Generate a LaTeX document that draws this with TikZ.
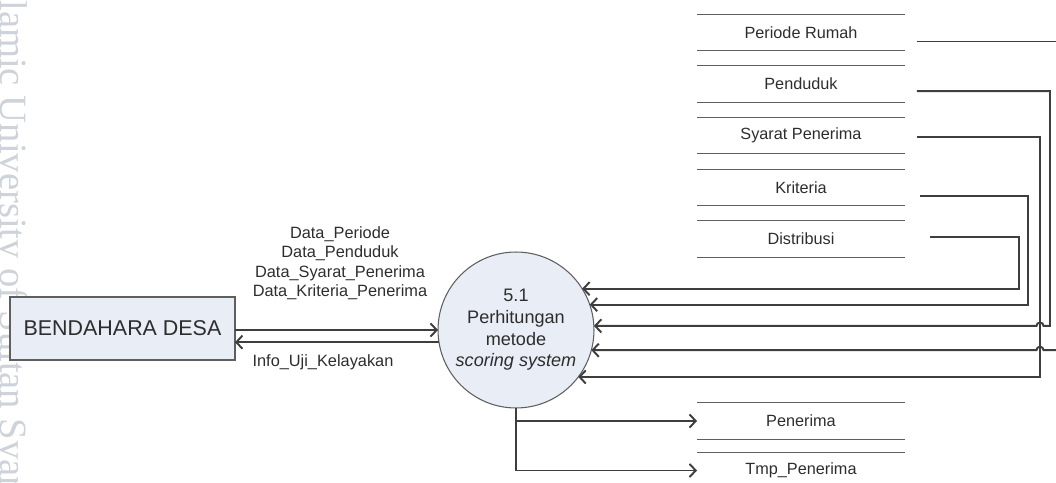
\documentclass[tikz,border=0pt]{standalone}
\usepackage{fontspec}
\setmainfont{Liberation Sans}
\newfontfamily\wmfont{Liberation Serif}
\usetikzlibrary{arrows.meta,calc}
\definecolor{ink}{RGB}{62,62,62}
\definecolor{rule}{RGB}{95,95,95}
\definecolor{bubble}{RGB}{232,237,246}
\definecolor{wmside}{RGB}{206,211,218}
\definecolor{txt}{RGB}{45,45,45}
\begin{document}
\begin{tikzpicture}[x=0.02cm,y=-0.02cm,
  flow/.style={draw=ink, line width=1.1pt, -{Straight Barb[length=3.5pt,width=7.5pt]}},
  link/.style={draw=ink, line width=1.1pt},
  storeline/.style={draw=rule, line width=0.6pt},
  store/.style={minimum width=4.16cm, minimum height=0.73cm, inner sep=0pt, outer sep=0pt,
    text=txt, font=\fontsize{9.25}{11}\selectfont},
  flowlabel/.style={text=txt, font=\fontsize{9.3}{11.05}\selectfont, align=center, inner sep=0pt},
  hop/.style={radius=2pt}
]
\clip (0,0) rectangle (1056,483);

% margin watermark of the page
\node[text=wmside, font=\wmfont\fontsize{22}{22}\selectfont, rotate=-90, anchor=base west, inner sep=0pt]
  (wmmargin) at (1,-28) {Islamic University of Sultan Syarif Kasim Riau};

% external entity
\node[draw=rule, fill=bubble, line width=0.6pt, minimum width=4.5cm, minimum height=1.26cm,
  inner sep=0pt, outer sep=0pt, text=txt, font=\fontsize{12.2}{14}\selectfont]
  (bd) at (122.5,328.5) {BENDAHARA DESA};

% process
\node[circle, draw=rule, fill=bubble, line width=0.6pt, minimum size=3.12cm, inner sep=0pt,
  outer sep=0pt, align=center, text=txt, font=\fontsize{10.3}{12.3}\selectfont]
  (c) at (516,330) {5.1\\Perhitungan\\metode\\\textit{scoring system}};

% data stores
\node[store] (pr) at (801,32.5)  {Periode Rumah};
\node[store] (pd) at (801,84.1)  {Penduduk};
\node[store] (sp) at (801,135.7) {Syarat Penerima};
\node[store] (kr) at (801,187.3) {Kriteria};
\node[store] (ds) at (801,238.9) {Distribusi};
\node[store] (pn) at (801,421)   {Penerima};
\node[store] (tp) at (801,470.5) {Tmp\_Penerima};
\foreach \s in {pr,pd,sp,kr,ds,pn,tp}
  \draw[storeline] (\s.north west) -- (\s.north east) (\s.south west) -- (\s.south east);

% flow labels
\node[flowlabel] (inlab) at (340,263)
  {Data\_Periode\\Data\_Penduduk\\Data\_Syarat\_Penerima\\Data\_Kriteria\_Penerima};
\node[flowlabel] (outlab) at (323,362) {Info\_Uji\_Kelayakan};

% entity <-> process
\draw[flow] (bd.east |- c.west) -- (c.west);
\draw[flow] (c.189.6) -- (bd.east |- c.189.6);

% routing columns on the right
\coordinate (dsX) at (1019,0);
\coordinate (krX) at (1028,0);
\coordinate (syX) at (1040,0);
\coordinate (pdX) at (1050,0);
\coordinate (edgeX) at (1075,0);

\coordinate (prOut) at ($(pr.east)+(12,9)$);
\coordinate (pdOut) at ($(pd.east)+(12,7)$);
\coordinate (spOut) at ($(sp.east)+(12,1.5)$);
\coordinate (krOut) at ($(kr.east)+(15,8.5)$);
\coordinate (dsOut) at ($(ds.east)+(25,-2)$);

% stores -> process
\draw[flow] (dsOut) -- (dsOut -| dsX) |- (c.32.6);
\draw[flow] (krOut) -- (krOut -| krX) |- (c.19.5);
\draw[flow] (pdOut) -- (pdOut -| pdX) -- (pdX |- c.3.7)
  -- ($(syX |- c.3.7)+(2pt,0)$) arc[start angle=0, end angle=180, hop] -- (c.3.7);
\draw[link] (prOut) -- (prOut -| edgeX);
\draw[flow] (edgeX |- c.-15.6)
  -- ($(syX |- c.-15.6)+(2pt,0)$) arc[start angle=0, end angle=180, hop] -- (c.-15.6);
\draw[flow] (spOut) -- (spOut -| syX) |- (c.-37);

% process -> stores
\draw[flow] (c.south) |- (pn.west);
\draw[flow] (c.south) |- (tp.west);
\end{tikzpicture}
\end{document}
